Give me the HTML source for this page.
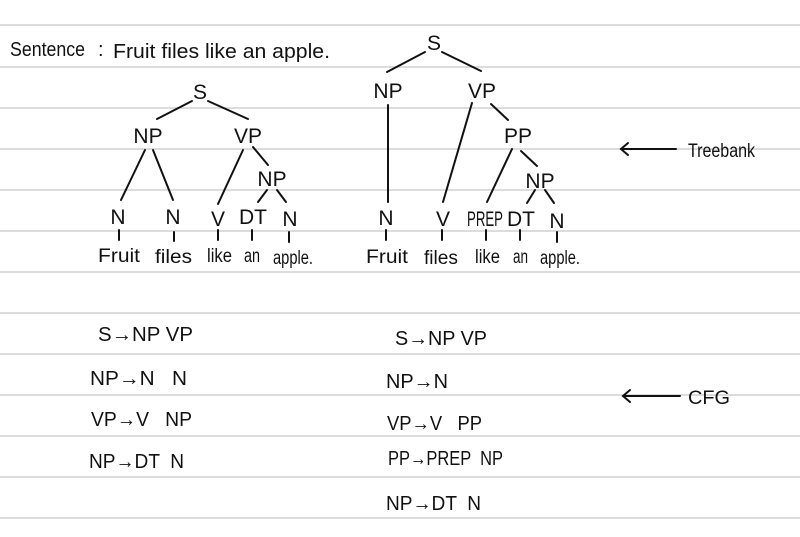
<!DOCTYPE html>
<html><head><meta charset="utf-8"><style>
html,body{margin:0;padding:0;background:#fff;}
svg{display:block;}
text{font-family:"Liberation Sans",sans-serif;fill:#111;white-space:pre;}
</style></head><body>
<svg width="800" height="537" viewBox="0 0 800 537" xmlns="http://www.w3.org/2000/svg" xml:space="preserve">
<g stroke="#dcdcdc" stroke-width="2">
<line x1="0" y1="25" x2="800" y2="25"/><line x1="0" y1="67" x2="800" y2="67"/>
<line x1="0" y1="108" x2="800" y2="108"/><line x1="0" y1="149" x2="800" y2="149"/>
<line x1="0" y1="190" x2="800" y2="190"/><line x1="0" y1="231" x2="800" y2="231"/>
<line x1="0" y1="272" x2="800" y2="272"/><line x1="0" y1="313" x2="800" y2="313"/>
<line x1="0" y1="354" x2="800" y2="354"/><line x1="0" y1="395" x2="800" y2="395"/>
<line x1="0" y1="436" x2="800" y2="436"/><line x1="0" y1="477" x2="800" y2="477"/>
<line x1="0" y1="518" x2="800" y2="518"/>
</g>
<g font-size="20">
<text x="10" y="56" textLength="75" lengthAdjust="spacingAndGlyphs">Sentence</text>
<text x="98" y="56">:</text>
<text x="113" y="58" textLength="217" lengthAdjust="spacingAndGlyphs">Fruit files like an apple.</text>
</g>
<g stroke="#111" stroke-width="2" fill="none" stroke-linecap="round">
<line x1="157" y1="119" x2="192" y2="101"/><line x1="208" y1="101" x2="248" y2="119"/>
<line x1="145" y1="150" x2="121" y2="200"/><line x1="153" y1="150" x2="173" y2="200"/>
<line x1="243" y1="150" x2="218" y2="204"/><line x1="253" y1="147" x2="268" y2="165"/>
<line x1="267" y1="190" x2="258" y2="202"/><line x1="277" y1="190" x2="286" y2="202"/>
<line x1="119" y1="230" x2="119" y2="240"/><line x1="174" y1="232" x2="174" y2="241"/>
<line x1="218" y1="230" x2="218" y2="240"/><line x1="252" y1="230" x2="252" y2="240"/>
<line x1="289" y1="232" x2="289" y2="242"/>
<line x1="387" y1="72" x2="425" y2="52"/><line x1="442" y1="52" x2="481" y2="71"/>
<line x1="388" y1="105" x2="388" y2="202"/>
<line x1="472" y1="103" x2="443" y2="202"/><line x1="491" y1="104" x2="508" y2="120"/>
<line x1="512" y1="149" x2="487" y2="202"/><line x1="521" y1="151" x2="537" y2="166"/>
<line x1="535" y1="190" x2="527" y2="203"/><line x1="545" y1="190" x2="554" y2="203"/>
<line x1="386" y1="230" x2="386" y2="240"/><line x1="442" y1="230" x2="442" y2="240"/>
<line x1="486" y1="230" x2="486" y2="240"/><line x1="520" y1="230" x2="520" y2="240"/>
<line x1="557" y1="232" x2="557" y2="242"/>
<line x1="621" y1="149" x2="676" y2="149"/><polyline points="628,143 621,149 628,155"/>
<line x1="623" y1="396" x2="680" y2="396"/><polyline points="630,390 623,396 630,402"/>
</g>
<g font-size="21" text-anchor="middle">
<text x="200" y="99">S</text><text x="148" y="143">NP</text><text x="248" y="143">VP</text>
<text x="272" y="186">NP</text>
<text x="118" y="224">N</text><text x="173" y="224">N</text><text x="218" y="226">V</text>
<text x="253" y="224">DT</text><text x="290" y="226">N</text>
<text x="434" y="50">S</text><text x="388" y="98">NP</text><text x="482" y="98">VP</text>
<text x="518" y="143">PP</text><text x="540" y="188">NP</text>
<text x="386" y="225">N</text><text x="443" y="226">V</text>
<text x="485" y="226" textLength="36" lengthAdjust="spacingAndGlyphs">PREP</text>
<text x="521" y="226">DT</text><text x="557" y="228">N</text>
</g>
<g font-size="19">
<text x="98" y="262" textLength="42" lengthAdjust="spacingAndGlyphs">Fruit</text>
<text x="155" y="263" textLength="37" lengthAdjust="spacingAndGlyphs">files</text>
<text x="207" y="262" textLength="25" lengthAdjust="spacingAndGlyphs">like</text>
<text x="244" y="262" textLength="16" lengthAdjust="spacingAndGlyphs">an</text>
<text x="273" y="264" textLength="40" lengthAdjust="spacingAndGlyphs">apple.</text>
<text x="366" y="263" textLength="42" lengthAdjust="spacingAndGlyphs">Fruit</text>
<text x="424" y="264" textLength="34" lengthAdjust="spacingAndGlyphs">files</text>
<text x="475" y="263" textLength="25" lengthAdjust="spacingAndGlyphs">like</text>
<text x="513" y="263" textLength="15" lengthAdjust="spacingAndGlyphs">an</text>
<text x="540" y="264" textLength="40" lengthAdjust="spacingAndGlyphs">apple.</text>
<text x="688" y="157" textLength="67" lengthAdjust="spacingAndGlyphs">Treebank</text>
<text x="688" y="404" textLength="42" lengthAdjust="spacingAndGlyphs">CFG</text>
</g>
<g font-size="20">
<text x="98" y="341" textLength="95" lengthAdjust="spacingAndGlyphs">S→NP VP</text>
<text x="90" y="385" textLength="97" lengthAdjust="spacingAndGlyphs">NP→N   N</text>
<text x="91" y="426" textLength="101" lengthAdjust="spacingAndGlyphs">VP→V   NP</text>
<text x="89" y="468" textLength="95" lengthAdjust="spacingAndGlyphs">NP→DT  N</text>
<text x="395" y="345" textLength="92" lengthAdjust="spacingAndGlyphs">S→NP VP</text>
<text x="386" y="388" textLength="62" lengthAdjust="spacingAndGlyphs">NP→N</text>
<text x="387" y="430" textLength="95" lengthAdjust="spacingAndGlyphs">VP→V   PP</text>
<text x="388" y="465" textLength="115" lengthAdjust="spacingAndGlyphs">PP→PREP  NP</text>
<text x="386" y="510" textLength="95" lengthAdjust="spacingAndGlyphs">NP→DT  N</text>
</g>
</svg>
</body></html>
